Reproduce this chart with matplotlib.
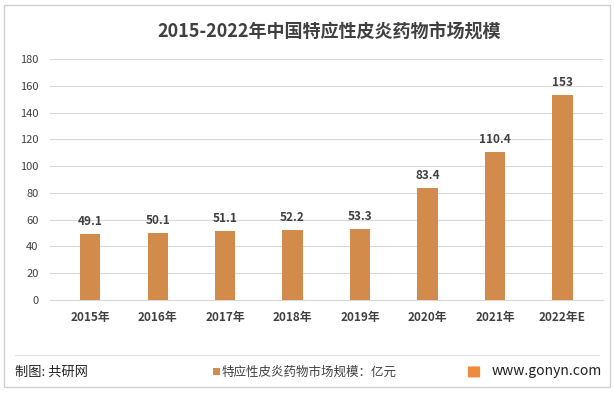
import matplotlib.pyplot as plt
from matplotlib.patches import Rectangle, FancyBboxPatch
from matplotlib.lines import Line2D

plt.rcParams['font.family'] = ['Noto Sans CJK SC', 'DejaVu Sans']

years = ['2015年', '2016年', '2017年', '2018年', '2019年', '2020年', '2021年', '2022年E']
values = [49.1, 50.1, 51.1, 52.2, 53.3, 83.4, 110.4, 153]
value_labels = ['49.1', '50.1', '51.1', '52.2', '53.3', '83.4', '110.4', '153']
yticks = [0, 20, 40, 60, 80, 100, 120, 140, 160, 180]

bar_color = '#D38B4C'
text_color = '#404040'

fig = plt.figure(figsize=(6.14, 3.94), dpi=100)
ax = fig.add_axes([0.081, 0.239, 0.901, 0.611])

x = range(len(years))
ax.bar(x, values, width=0.3, color=bar_color, zorder=3)
for i, v in enumerate(values):
    ax.text(i, v + 4.5, value_labels[i], ha='center', va='bottom',
            fontsize=8.5, fontweight='bold', color=text_color)

ax.set_ylim(0, 180)
ax.set_xlim(-0.6, len(years) - 0.4)
ax.set_yticks(yticks)
ax.set_yticklabels([str(t) for t in yticks], fontsize=8, color=text_color,
                   fontweight='medium')
ax.set_xticks(list(x))
ax.set_xticklabels(years, fontsize=8.5, color=text_color, fontweight='bold')
ax.yaxis.grid(True, color='#D9D9D9', linewidth=0.8, zorder=0)
ax.tick_params(axis='both', length=0, pad=8)
for s in ['top', 'right', 'left']:
    ax.spines[s].set_visible(False)
ax.spines['bottom'].set_color('#D9D9D9')

fig.text(0.536, 0.918, '2015-2022年中国特应性皮炎药物市场规模', ha='center', va='center',
         fontsize=13, fontweight='bold', color=text_color)

# outer border
fig.patches.append(Rectangle((0.006, 0.018), 0.988, 0.97, transform=fig.transFigure,
                             fill=False, edgecolor='#D0D0D0', linewidth=1))
# footer separator
fig.lines.append(Line2D([0.024, 0.976], [0.099, 0.099], transform=fig.transFigure,
                        color='#E0E0E0', linewidth=0.8))

fig.text(0.024, 0.056, '制图: 共研网', ha='left', va='center', fontsize=9.5, color='#222222')
fig.patches.append(Rectangle((0.347, 0.047), 0.011, 0.018, transform=fig.transFigure,
                             facecolor=bar_color, edgecolor='none'))
fig.text(0.361, 0.056, '特应性皮炎药物市场规模：亿元', ha='left', va='center',
         fontsize=9, color=text_color)
fig.patches.append(FancyBboxPatch((0.764, 0.044), 0.016, 0.024, boxstyle='round,pad=0.002',
                                  transform=fig.transFigure, facecolor='#F08A3C',
                                  edgecolor='none'))
fig.text(0.8, 0.059, 'www.gonyn.com', ha='left', va='center', fontsize=10, color='#222222')

fig.savefig('out.png', dpi=100)
